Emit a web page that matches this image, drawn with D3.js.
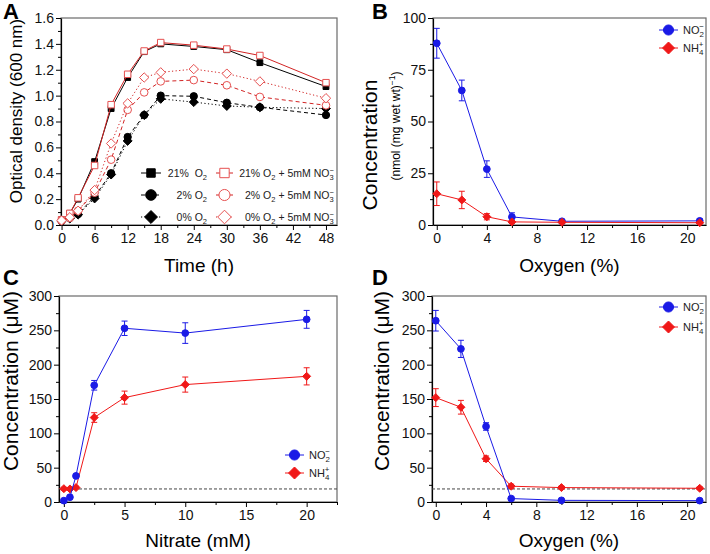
<!DOCTYPE html>
<html>
<head>
<meta charset="utf-8">
<script src="https://cdn.jsdelivr.net/npm/d3@7"></script>
<style>
body { margin: 0; background: #fff; }
text { font-family: Arial, "Liberation Sans", sans-serif; }
</style>
</head>
<body>
<svg id="fig" width="710" height="554"></svg>
<script>
'use strict';
// ---- panel A: growth curves ----
var timeH = [0, 1.5, 3, 6, 9, 12, 15, 18, 24, 30, 36, 48];
var od21 = [0.04, 0.09, 0.20, 0.49, 0.90, 1.14, 1.34, 1.40, 1.38, 1.355, 1.255, 1.07];
var od2 = [0.03, 0.055, 0.085, 0.22, 0.40, 0.68, 0.85, 1.00, 0.995, 0.945, 0.91, 0.85];
var od0 = [0.03, 0.05, 0.08, 0.205, 0.39, 0.65, 0.85, 0.975, 0.95, 0.92, 0.91, 0.90];
var od21N = [0.04, 0.09, 0.21, 0.46, 0.93, 1.165, 1.345, 1.41, 1.39, 1.36, 1.31, 1.10];
var od2N = [0.035, 0.055, 0.11, 0.25, 0.505, 0.89, 1.025, 1.11, 1.12, 1.08, 0.99, 0.925];
var od0N = [0.035, 0.06, 0.11, 0.27, 0.63, 0.94, 1.14, 1.18, 1.205, 1.17, 1.11, 0.98];

// ---- panel B: intracellular, per mg wet wt ----
var oxygenPct = [0, 2, 4, 6, 10, 21];
var bNO2 = [87.8, 65, 27, 3.9, 1.8, 2.0];
var bNO2err = [7.2, 5, 4, 2, 0.8, 0.9];
var bNH4 = [15.1, 12.1, 4, 1.5, 1.3, 1.1];
var bNH4err = [5.7, 4.2, 1.5, 0.6, 0.5, 0.5];

// ---- panel C: vs nitrate ----
var nitrateMM = [0, 0.5, 1, 2.5, 5, 10, 20];
var cNO2 = [2, 7, 38, 170, 253, 246, 266];
var cNO2err = [1, 1.5, 2, 7, 10.5, 15, 13];
var cNH4 = [19.4, 19, 21, 123, 152, 171, 183];
var cNH4err = [2, 2, 2, 7, 9.5, 11, 12.5];

// ---- panel D: vs oxygen ----
var dNO2 = [264, 223, 110, 5, 2.4, 2];
var dNO2err = [15, 12.5, 5.5, 1, 0.8, 0.8];
var dNH4 = [152, 138, 63, 23, 21, 20];
var dNH4err = [13, 10, 4, 3, 2, 2];

var detectLimit = 19;

var BLUE = "#1a1ae6", RED = "#f01818", DRED = "#d22424", LRED = "#e65050";
var svg = d3.select("#fig");

var diamond = {
  draw: function(ctx, size) {
    var r = Math.sqrt(size / 2);
    ctx.moveTo(0, -r); ctx.lineTo(r, 0); ctx.lineTo(0, r); ctx.lineTo(-r, 0); ctx.closePath();
  }
};

function makePanel(o) {
  var g = svg.append("g");
  var x = d3.scaleLinear().domain(o.xDomain).range([o.left, o.right]);
  var y = d3.scaleLinear().domain(o.yDomain).range([o.bottom, o.top]);

  g.append("rect")
    .attr("x", o.left).attr("y", o.top)
    .attr("width", o.right - o.left).attr("height", o.bottom - o.top)
    .attr("fill", "none").attr("stroke", "#6a6a6a").attr("stroke-width", 1.2);

  var xm = g.append("g").attr("transform", "translate(0," + o.bottom + ")")
    .call(d3.axisBottom(x).tickValues(o.xMinor).tickSize(3).tickFormat(""));
  xm.select(".domain").remove();
  g.append("g").attr("transform", "translate(0," + o.bottom + ")")
    .call(d3.axisBottom(x).tickValues(o.xMajor).tickSize(5).tickSizeOuter(0).tickPadding(3).tickFormat(o.xFmt || d3.format("d")));
  var ym = g.append("g").attr("transform", "translate(" + o.left + ",0)")
    .call(d3.axisLeft(y).tickValues(o.yMinor).tickSize(3).tickFormat(""));
  ym.select(".domain").remove();
  g.append("g").attr("transform", "translate(" + o.left + ",0)")
    .call(d3.axisLeft(y).tickValues(o.yMajor).tickSize(5).tickSizeOuter(0).tickPadding(2).tickFormat(o.yFmt || d3.format("d")));

  g.selectAll(".tick text").attr("font-size", 14).attr("font-family", "Arial, 'Liberation Sans', sans-serif").attr("fill", "#111");
  g.selectAll(".domain").attr("stroke", "#000").attr("stroke-width", 1.2);
  g.selectAll(".tick line").attr("stroke", "#000");

  svg.append("text").attr("x", o.letterX).attr("y", o.letterY)
    .attr("font-size", 22).attr("font-weight", "bold").text(o.letter);

  svg.append("text").attr("x", (o.left + o.right) / 2).attr("y", o.xTitleY)
    .attr("text-anchor", "middle").attr("font-size", 19).text(o.xTitle);

  return { g: g, x: x, y: y };
}

function series(p, xs, ys, opt) {
  var line = d3.line().x(function(d, i) { return p.x(xs[i]); }).y(function(d) { return p.y(d); });
  p.g.append("path").datum(ys).attr("d", line)
    .attr("fill", "none").attr("stroke", opt.color).attr("stroke-width", opt.width || 1)
    .attr("stroke-dasharray", opt.dash || null);
  if (opt.err) {
    var eb = p.g.append("g").attr("stroke", opt.color).attr("stroke-width", 1);
    ys.forEach(function(v, i) {
      var cx = p.x(xs[i]), y1 = p.y(v + opt.err[i]), y2 = p.y(Math.max(0, v - opt.err[i]));
      eb.append("line").attr("x1", cx).attr("x2", cx).attr("y1", y1).attr("y2", y2);
      eb.append("line").attr("x1", cx - 3).attr("x2", cx + 3).attr("y1", y1).attr("y2", y1);
      eb.append("line").attr("x1", cx - 3).attr("x2", cx + 3).attr("y1", y2).attr("y2", y2);
    });
  }
  p.g.append("g").selectAll("path").data(ys).join("path")
    .attr("transform", function(d, i) { return "translate(" + p.x(xs[i]) + "," + p.y(d) + ")"; })
    .attr("d", d3.symbol().type(opt.symbol).size(opt.size))
    .attr("fill", opt.open ? "#fff" : opt.mcolor || opt.color)
    .attr("stroke", opt.mcolor || opt.color).attr("stroke-width", 1);
}

// subscript + stacked superscript helper
function ion(t, base, sub, sup, fs) {
  t.append("tspan").text(base);
  t.append("tspan").attr("font-size", fs * 0.72).attr("dy", fs * 0.3).text(sub);
  if (sup) t.append("tspan").attr("font-size", fs * 0.72).attr("dx", -fs * 0.42).attr("dy", -fs * 0.72).text(sup);
}

function legendRow(x0, y0, len, opt, labelFn) {
  svg.append("line").attr("x1", x0).attr("x2", x0 + len).attr("y1", y0).attr("y2", y0)
    .attr("stroke", opt.color).attr("stroke-width", opt.width || 1).attr("stroke-dasharray", opt.dash || null);
  svg.append("path").attr("transform", "translate(" + (x0 + len / 2) + "," + y0 + ")")
    .attr("d", d3.symbol().type(opt.symbol).size(opt.size))
    .attr("fill", opt.open ? "#fff" : opt.mcolor || opt.color)
    .attr("stroke", opt.mcolor || opt.color).attr("stroke-width", 1);
  labelFn();
}

// ================= A =================
var pA = makePanel({
  left: 61, right: 337, top: 18, bottom: 225,
  xDomain: [-0.1, 50], yDomain: [0, 1.6],
  xMajor: d3.range(0, 49, 6), xMinor: d3.range(3, 49, 6),
  yMajor: d3.range(0, 1.61, 0.2), yMinor: d3.range(0.1, 1.6, 0.2),
  yFmt: d3.format(".1f"),
  letter: "A", letterX: 3, letterY: 19,
  xTitle: "Time (h)", xTitleY: 272
});
svg.append("text").attr("transform", "translate(22,111) rotate(-90)")
  .attr("text-anchor", "middle").attr("font-size", 17).text("Optical density (600 nm)");

var styleA = [
  { ys: od21, color: "#000", symbol: d3.symbolSquare, size: 34, label: "21%\u00a0\u00a0O", full: false },
  { ys: od2, color: "#000", dash: "4,3", symbol: d3.symbolCircle, size: 42, label: "2% O", full: false },
  { ys: od0, color: "#000", dash: "1.2,2.4", symbol: diamond, size: 40, label: "0% O", full: false },
  { ys: od21N, color: DRED, mcolor: LRED, open: true, symbol: d3.symbolSquare, size: 42, label: "21% O", full: true },
  { ys: od2N, color: DRED, mcolor: LRED, dash: "4,3", open: true, symbol: d3.symbolCircle, size: 46, label: "2% O", full: true },
  { ys: od0N, color: DRED, mcolor: LRED, dash: "1.2,2.4", open: true, symbol: diamond, size: 44, label: "0% O", full: true }
];
styleA.forEach(function(s) { series(pA, timeH, s.ys, s); });

var legRowsY = [173, 195, 217];
styleA.forEach(function(s, i) {
  var col = s.full ? 1 : 0, yy = legRowsY[i % 3];
  var lx = col ? 216 : 141, len = col ? 17 : 20;
  var big = Object.assign({}, s, { size: s.size * 2.1 });
  legendRow(lx, yy, len, big, function() {
    var t = svg.append("text").attr("x", col ? 334 : 207).attr("y", yy + 4)
      .attr("text-anchor", "end").attr("font-size", 10.5).attr("fill", "#222");
    t.append("tspan").text(s.label);
    t.append("tspan").attr("font-size", 7.5).attr("dy", 3).text("2");
    if (s.full) {
      t.append("tspan").attr("dy", -3).text(" + 5mM NO");
      t.append("tspan").attr("font-size", 7.5).attr("dy", 3).text("3");
      t.append("tspan").attr("font-size", 7.5).attr("dx", -4).attr("dy", -7.5).text("\u2212");
    }
  });
});

// ================= B =================
var pB = makePanel({
  left: 433, right: 706, top: 18, bottom: 225,
  xDomain: [-0.3, 21.5], yDomain: [0, 100],
  xMajor: d3.range(0, 21, 4), xMinor: d3.range(2, 21, 4),
  yMajor: d3.range(0, 101, 25), yMinor: d3.range(12.5, 100, 25),
  letter: "B", letterX: 372, letterY: 19,
  xTitle: "Oxygen (%)", xTitleY: 272
});
series(pB, oxygenPct, bNO2, { color: BLUE, err: bNO2err, symbol: d3.symbolCircle, size: 36 });
series(pB, oxygenPct, bNH4, { color: RED, err: bNH4err, symbol: diamond, size: 32 });
svg.append("text").attr("transform", "translate(377,145) rotate(-90)")
  .attr("text-anchor", "middle").attr("font-size", 21).text("Concentration");
(function() {
  var t = svg.append("text").attr("transform", "translate(400,126) rotate(-90)")
    .attr("text-anchor", "middle").attr("font-size", 12);
  t.append("tspan").text("(nmol (mg wet wt)");
  t.append("tspan").attr("font-size", 8.5).attr("dy", -5).text("\u22121");
  t.append("tspan").attr("dy", 5).text(")");
})();

function ionLegend(x0, rows) {
  rows.forEach(function(r) {
    legendRow(x0, r.y, 19, r.opt, function() {
      var t = svg.append("text").attr("x", x0 + 24).attr("y", r.y + 4)
        .attr("font-size", 11).attr("fill", "#222");
      ion(t, r.base, r.sub, r.sup, 11);
    });
  });
}
ionLegend(659, [
  { y: 30, base: "NO", sub: "2", sup: "\u2212", opt: { color: BLUE, symbol: d3.symbolCircle, size: 80 } },
  { y: 48, base: "NH", sub: "4", sup: "+", opt: { color: RED, symbol: diamond, size: 72 } }
]);

// ================= C =================
var pC = makePanel({
  left: 59, right: 337, top: 296, bottom: 502,
  xDomain: [-0.4, 22.5], yDomain: [0, 300],
  xMajor: d3.range(0, 21, 5), xMinor: d3.range(2.5, 22.6, 5),
  yMajor: d3.range(0, 301, 50), yMinor: d3.range(25, 300, 50),
  letter: "C", letterX: 3, letterY: 285,
  xTitle: "Nitrate (mM)", xTitleY: 547
});
pC.g.append("line").attr("x1", 59).attr("x2", 337).attr("y1", pC.y(detectLimit)).attr("y2", pC.y(detectLimit))
  .attr("stroke", "#444").attr("stroke-dasharray", "3,2");
series(pC, nitrateMM, cNH4, { color: RED, err: cNH4err, symbol: diamond, size: 32 });
series(pC, nitrateMM, cNO2, { color: BLUE, err: cNO2err, symbol: d3.symbolCircle, size: 36 });
svg.append("text").attr("transform", "translate(18,381) rotate(-90)")
  .attr("text-anchor", "middle").attr("font-size", 21).text("Concentration (\u03bcM)");
ionLegend(285, [
  { y: 455, base: "NO", sub: "2", sup: "\u2212", opt: { color: BLUE, symbol: d3.symbolCircle, size: 80 } },
  { y: 473, base: "NH", sub: "4", sup: "+", opt: { color: RED, symbol: diamond, size: 72 } }
]);

// ================= D =================
var pD = makePanel({
  left: 432, right: 706, top: 296, bottom: 502,
  xDomain: [-0.3, 21.5], yDomain: [0, 300],
  xMajor: d3.range(0, 21, 4), xMinor: d3.range(2, 21, 4),
  yMajor: d3.range(0, 301, 50), yMinor: d3.range(25, 300, 50),
  letter: "D", letterX: 372, letterY: 285,
  xTitle: "Oxygen (%)", xTitleY: 547
});
pD.g.append("line").attr("x1", 432).attr("x2", 706).attr("y1", pD.y(detectLimit)).attr("y2", pD.y(detectLimit))
  .attr("stroke", "#444").attr("stroke-dasharray", "3,2");
series(pD, oxygenPct, dNH4, { color: RED, err: dNH4err, symbol: diamond, size: 32 });
series(pD, oxygenPct, dNO2, { color: BLUE, err: dNO2err, symbol: d3.symbolCircle, size: 36 });
svg.append("text").attr("transform", "translate(389,381) rotate(-90)")
  .attr("text-anchor", "middle").attr("font-size", 21).text("Concentration (\u03bcM)");
ionLegend(659, [
  { y: 307, base: "NO", sub: "2", sup: "\u2212", opt: { color: BLUE, symbol: d3.symbolCircle, size: 80 } },
  { y: 327, base: "NH", sub: "4", sup: "+", opt: { color: RED, symbol: diamond, size: 72 } }
]);
</script>
</body>
</html>
